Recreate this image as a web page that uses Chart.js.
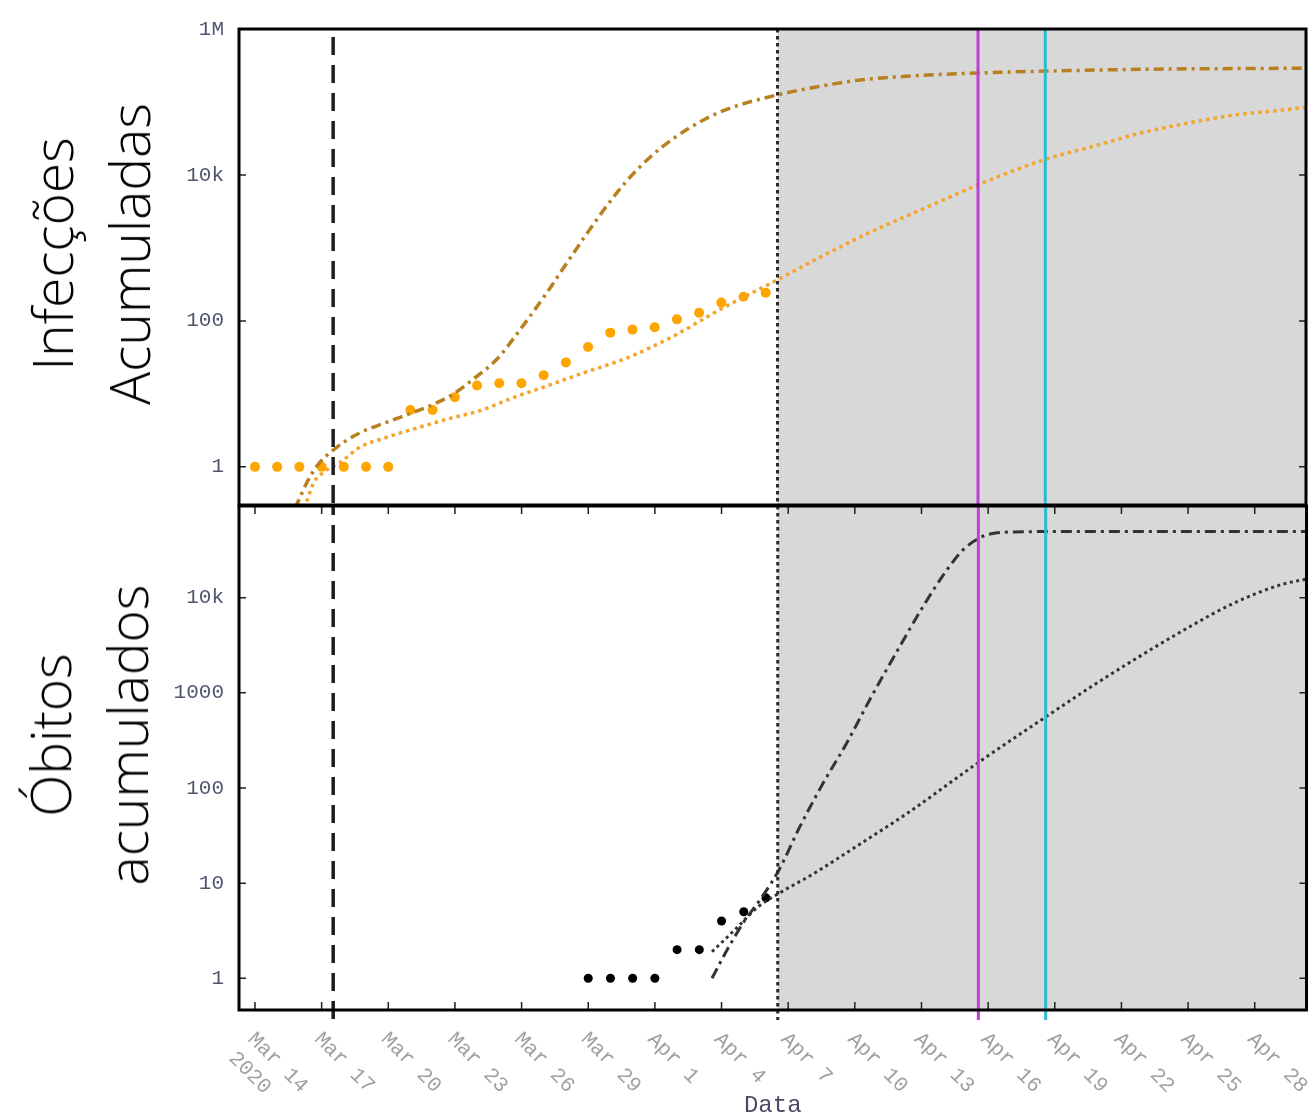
<!DOCTYPE html>
<html>
<head>
<meta charset="utf-8">
<script src="https://cdn.jsdelivr.net/npm/chart.js@4.4.0/dist/chart.umd.min.js"></script>
<style>
  body { margin: 0; background: #fff; }
  #wrap { position: relative; width: 1311px; height: 1118px; overflow: hidden; }
  canvas { position: absolute; left: 0; }
  .ytitle {
    position: absolute;
    font-family: 'Open Sans', sans-serif;
    font-weight: 300;
    font-size: 55px;
    line-height: 77px;
    white-space: nowrap;
    text-align: center;
    color: #000;
    transform: translate(-50%, -50%) rotate(-90deg);
  }
</style>
</head>
<body>
<div id="wrap">
  <canvas id="infChart" width="1311" height="510" style="top:0"></canvas>
  <canvas id="deathChart" width="1311" height="628" style="top:490px"></canvas>
  <div class="ytitle" style="left:90px; top:254px">Infecções<br>Acumuladas</div>
  <div class="ytitle" style="left:88px; top:735px">Óbitos<br>acumulados</div>
</div>
<script>
// x values are days since 2020-03-14
const xTickDays = [0, 3, 6, 9, 12, 15, 18, 21, 24, 27, 30, 33, 36, 39, 42, 45];
const xTickLabels = [['Mar 14', '2020'], 'Mar 17', 'Mar 20', 'Mar 23', 'Mar 26', 'Mar 29',
  'Apr 1', 'Apr 4', 'Apr 7', 'Apr 10', 'Apr 13', 'Apr 16', 'Apr 19', 'Apr 22', 'Apr 25', 'Apr 28'];

const infTickValues = [1, 100, 10000, 1000000];
const infTickLabels = ['1', '100', '10k', '1M'];
const deathTickValues = [1, 10, 100, 1000, 10000];
const deathTickLabels = ['1', '10', '100', '1000', '10k'];

// observed data
const infObsDays = [0, 1, 2, 3, 4, 5, 6, 7, 8, 9, 10, 11, 12, 13, 14, 15, 16, 17, 18, 19, 20, 21, 22, 23];
const infObs = [1, 1, 1, 1, 1, 1, 1, 6, 6, 9, 13, 14, 14, 18, 27, 44, 69, 76, 82, 105, 129, 178, 214, 243];
const deathObsDays = [15, 16, 17, 18, 19, 20, 21, 22, 23];
const deathObs = [1, 1, 1, 1, 2, 2, 4, 5, 7];

// model curves (dash-dot and dotted)
const infModelADays = [1.8, 1.97, 2.35, 2.8, 3.55, 4.6, 5.95, 7.14, 8.04, 8.94, 9.84, 10.9, 11.94, 13.14,
  14.04, 14.64, 15.7, 16.74, 17.79, 18.85, 20.3, 21.57, 23.58, 25.15, 27.24, 29.35, 32.6, 35.65, 39.87, 44.06, 47.4];
const infModelA = [0.27, 0.35, 0.62, 1.04, 1.72, 2.8, 4.1, 5.6, 7.2, 10, 16, 30, 76, 243,
  620, 1150, 3300, 8300, 17500, 31700, 59000, 86000, 126000, 158000, 200000, 225000, 250000, 265000, 280000, 287000, 290000];
const infModelBDays = [2.2, 2.32, 2.65, 3.1, 3.85, 4.74, 5.95, 7.14, 8.65, 10.14, 11.64, 13.14, 14.64, 16.74,
  18.85, 20.94, 23.58, 25.57, 27.67, 30.2, 32.6, 35.65, 37.76, 39.87, 41.97, 44.06, 46.18, 47.4];
const infModelB = [0.27, 0.33, 0.61, 0.85, 1.16, 1.87, 2.55, 3.3, 4.5, 5.9, 8.9, 12.8, 18.7, 31,
  62, 143, 372, 780, 1620, 3550, 7400, 16600, 24700, 37500, 51000, 66000, 77000, 85000];
const deathModelADays = [20.57, 21.16, 22.0, 22.83, 23.58, 24.52, 25.57, 26.63, 27.67, 28.94, 29.98,
  31.04, 31.88, 32.61, 33.14, 33.99, 35.65, 47.4];
const deathModelA = [1, 1.82, 3.9, 7.2, 13.7, 39, 112, 295, 846, 2840, 7450,
  18100, 32000, 42500, 47000, 49000, 49500, 49500];
const deathModelBDays = [20.57, 21.58, 22.63, 23.58, 25.15, 27.26, 29.35, 32.61, 35.65, 37.76, 39.87, 41.97, 44.06, 46.18, 47.4];
const deathModelB = [1.9, 3.2, 5.6, 7.8, 12.6, 26, 54, 189, 570, 1210, 2460, 4800, 8760, 13700, 15800];

// event markers and forecast period
const forecastStartDay = 23.53;
const markerDays = [3.52, 23.53, 32.56, 35.59];
const markerStyles = [
  { color: '#1e1e1e', width: 3.5, dash: [18, 10] },
  { color: '#2a2a2a', width: 3, dash: [3.5, 3.5] },
  { color: '#c23cd8', width: 3, dash: [] },
  { color: '#2bbcd2', width: 3, dash: [] },
];

const pts = (xs, ys) => xs.map((d, i) => ({ x: d, y: ys[i] }));

const decorations = {
  id: 'decorations',
  beforeDatasetsDraw(chart) {
    const { ctx, chartArea: a, scales: { x } } = chart;
    const xs = x.getPixelForValue(forecastStartDay);
    ctx.save();
    ctx.fillStyle = '#d8d8d8';
    ctx.fillRect(xs, a.top, a.right - xs, a.bottom - a.top);
    ctx.restore();
  },
  afterDatasetsDraw(chart, args, opts) {
    const { ctx, chartArea: a, scales: { x } } = chart;
    markerDays.forEach((d, i) => {
      const st = markerStyles[i];
      const px = x.getPixelForValue(d);
      ctx.save();
      ctx.strokeStyle = st.color;
      ctx.lineWidth = st.width;
      ctx.setLineDash(st.dash);
      ctx.lineDashOffset = i === 0 ? opts.dashOffset : 0;
      ctx.beginPath();
      ctx.moveTo(px, a.top);
      ctx.lineTo(px, a.bottom + opts.overshoot);
      ctx.stroke();
      ctx.restore();
    });
  },
  afterDraw(chart, args, opts) {
    const { ctx, chartArea: a, scales: { x, y } } = chart;
    ctx.save();
    // inward tick marks
    ctx.strokeStyle = '#222';
    ctx.lineWidth = 1.5;
    ctx.beginPath();
    y.ticks.forEach(t => {
      const py = y.getPixelForValue(t.value);
      ctx.moveTo(a.left, py); ctx.lineTo(a.left + 7, py);
      ctx.moveTo(a.right, py); ctx.lineTo(a.right - 7, py);
    });
    if (opts.xTicks) {
      xTickDays.forEach(d => {
        const px = x.getPixelForValue(d);
        ctx.moveTo(px, a.top); ctx.lineTo(px, a.top + 8);
        ctx.moveTo(px, a.bottom); ctx.lineTo(px, a.bottom - 8);
      });
    }
    ctx.stroke();
    // frame
    ctx.strokeStyle = '#000';
    ctx.lineWidth = 3;
    ctx.strokeRect(a.left, a.top, a.right - a.left, a.bottom - a.top);
    // rotated date labels, first line starts just left of its tick
    if (opts.xLabels) {
      const lh = 27;
      ctx.font = '21px "Liberation Mono"';
      ctx.fillStyle = '#a0a0a0';
      ctx.textBaseline = 'middle';
      ctx.textAlign = 'left';
      xTickDays.forEach((d, i) => {
        const lines = [].concat(xTickLabels[i]);
        ctx.save();
        ctx.translate(x.getPixelForValue(d) - 4, a.bottom + 26);
        ctx.rotate(Math.PI / 4);
        lines.forEach((s, j) => ctx.fillText(s, 0, j * lh));
        ctx.restore();
      });
    }
    ctx.restore();
  }
};

function makeChart(id, datasets, yMin, yMax, tickValues, tickLabels, isBottom) {
  return new Chart(document.getElementById(id), {
    type: 'scatter',
    data: { datasets },
    plugins: [decorations],
    options: {
      responsive: false,
      animation: false,
      events: [],
      layout: { padding: { top: isBottom ? 16 : 29, right: 3, left: 0, bottom: 0 } },
      plugins: {
        legend: { display: false },
        tooltip: { enabled: false },
        decorations: { xTicks: isBottom, xLabels: isBottom, overshoot: isBottom ? 10 : 0, dashOffset: isBottom ? 9 : 20 },
      },
      scales: {
        x: {
          type: 'linear',
          min: -0.72,
          max: 47.33,
          grid: { display: false },
          border: { display: false },
          ticks: { display: false },
          afterBuildTicks: s => { s.ticks = xTickDays.map(v => ({ value: v })); },
          afterFit: s => {
            s.height = isBottom ? 108 : 5;
            s.paddingLeft = s.paddingRight = 0;
          },
          title: {
            display: isBottom,
            text: 'Data',
            color: '#4a4a66',
            font: { family: 'Liberation Mono', size: 24, lineHeight: 1 },
            padding: 0,
          },
        },
        y: {
          type: 'logarithmic',
          min: yMin,
          max: yMax,
          grid: { display: false },
          border: { display: false },
          afterBuildTicks: s => { s.ticks = tickValues.map(v => ({ value: v })); },
          afterFit: s => {
            s.width = 239;
            s.paddingTop = s.paddingBottom = 0;
          },
          ticks: {
            autoSkip: false,
            padding: 7,
            color: '#50566e',
            font: { family: 'Liberation Mono', size: 21 },
            callback: (v, i) => tickLabels[i],
          },
        },
      },
    },
  });
}

makeChart('infChart', [
  { data: pts(infModelADays, infModelA), showLine: true, pointRadius: 0, borderColor: '#b8801f',
    borderWidth: 3.5, borderDash: [10, 5, 3, 5], cubicInterpolationMode: 'monotone' },
  { data: pts(infModelBDays, infModelB), showLine: true, pointRadius: 0, borderColor: '#f5a42c',
    borderWidth: 3.5, borderDash: [3.5, 4], cubicInterpolationMode: 'monotone' },
  { data: pts(infObsDays, infObs), pointRadius: 5, pointBorderWidth: 0, backgroundColor: '#ffa500', borderColor: '#ffa500' },
], Math.pow(10, -0.5), 1e6, infTickValues, infTickLabels, false);

makeChart('deathChart', [
  { data: pts(deathModelADays, deathModelA), showLine: true, pointRadius: 0, borderColor: '#333',
    borderWidth: 3, borderDash: [11, 5, 3, 5], cubicInterpolationMode: 'monotone' },
  { data: pts(deathModelBDays, deathModelB), showLine: true, pointRadius: 0, borderColor: '#333',
    borderWidth: 3, borderDash: [3, 3.5], cubicInterpolationMode: 'monotone' },
  { data: pts(deathObsDays, deathObs), pointRadius: 4.5, pointBorderWidth: 0, backgroundColor: '#000', borderColor: '#000' },
], 0.464, 92000, deathTickValues, deathTickLabels, true);
</script>
</body>
</html>
